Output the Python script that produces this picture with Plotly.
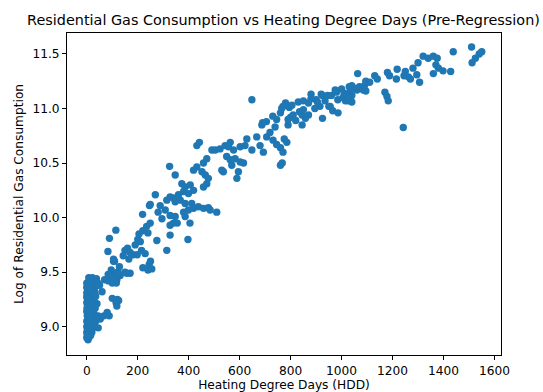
import plotly.graph_objects as go

# Heating degree days (x) and log of residential gas consumption (y)
hdd_low = [0, 2, 5, 8, 0, 3, 10, 15, 20, 0, 5, 12, 18, 25, 30, 0, 6, 14, 22, 35,
           40, 2, 9, 16, 28, 45, 0, 7, 20, 33, 3, 11, 24, 40, 0, 8, 15, 28, 2, 12,
           22, 35, 0, 6, 18, 30, 3, 10, 25, 40, 0, 15, 30, 8, 22, 38, 0, 4, 1, 13,
           5, 18, 27, 10, 0, 32, 44, 6, 20, 14]
gas_low = [8.90, 8.93, 8.88, 8.90, 8.95, 8.98, 8.96, 8.92, 8.95, 9.00, 9.02, 9.00, 9.03, 8.99, 9.02, 9.05, 9.07, 9.06, 9.08, 9.05,
           9.08, 9.10, 9.12, 9.11, 9.12, 9.10, 9.14, 9.16, 9.15, 9.17, 9.19, 9.20, 9.19, 9.21, 9.22, 9.24, 9.26, 9.24, 9.28, 9.29,
           9.30, 9.28, 9.31, 9.33, 9.34, 9.35, 9.37, 9.38, 9.39, 9.38, 9.40, 9.42, 9.43, 9.45, 9.45, 9.44, 9.36, 9.26, 9.17, 9.35,
           8.92, 8.97, 9.04, 9.13, 9.27, 9.31, 9.40, 9.41, 9.22, 9.09]

hdd_mid = [50, 60, 70, 85, 100, 53, 67, 88, 45, 80,
           96, 105, 118, 131, 110, 120, 125, 115, 100,
           84, 100, 110, 122, 150, 170, 96, 118,
           83, 89, 114, 109, 105, 122, 128, 116,
           143, 150, 160, 170, 182, 157, 165,
           190, 200, 210, 215, 229, 205, 220, 235, 240, 249, 198,
           220, 240, 255, 250, 245,
           275, 314, 397, 219, 246, 249, 269, 280,
           327, 340, 355, 327, 405]
gas_mid = [9.38, 9.32, 9.43, 9.42, 9.40, 9.07, 9.10, 9.10, 8.99, 9.13,
           9.52, 9.60, 9.43, 9.47, 9.47, 9.25, 9.24, 9.22, 9.26,
           9.48, 9.49, 9.47, 9.50, 9.50, 9.49, 9.46, 9.19,
           9.69, 9.81, 9.885, 9.60, 9.62, 9.50, 9.55, 9.40,
           9.65, 9.70, 9.72, 9.68, 9.66, 9.49, 9.62,
           9.75, 9.80, 9.78, 9.70, 9.67, 9.85, 9.88, 9.92, 9.86, 9.95, 9.66,
           9.54, 9.52, 9.53, 9.60, 9.57,
           9.79, 9.70, 9.80, 10.03, 10.11, 10.12, 10.21, 10.05,
           9.93, 9.95, 9.95, 9.84, 9.95]

hdd_band = [325, 347, 373, 386, 406, 419, 399, 380, 360, 340,
            327, 314, 347, 367, 386, 412, 419, 399, 380, 386,
            347, 327, 308, 288, 438, 458, 477, 484, 510, 295,
            471, 458, 432, 419, 452, 465, 477, 471, 458, 432, 442,
            491, 504, 523, 543, 563, 556, 576, 602, 621, 628,
            648, 667, 680, 693, 706, 687,
            549, 563, 582, 602, 615, 569, 530, 536, 595, 589]
gas_band = [10.47, 10.39, 10.31, 10.28, 10.30, 10.25, 10.22, 10.24, 10.21, 10.18,
            10.19, 10.16, 10.145, 10.16, 10.13, 10.13, 10.085, 10.07, 10.05, 10.01,
            10.01, 10.02, 10.07, 10.11, 10.10, 10.085, 10.09, 10.07, 10.05, 9.99,
            10.54, 10.50, 10.465, 10.435, 10.42, 10.39, 10.36, 10.31, 10.28, 10.66, 10.69,
            10.62, 10.62, 10.63, 10.66, 10.69, 10.65, 10.62, 10.65, 10.66, 10.72,
            10.62, 10.74, 10.66, 10.60, 10.74, 10.85,
            10.56, 10.53, 10.54, 10.51, 10.50, 10.48, 10.435, 10.42, 10.42, 10.36]

hdd_high = [648,
            760, 767, 731, 760, 770, 745, 785, 775, 719, 739, 790,
            690, 705, 730, 760, 745, 800, 820, 845, 770, 795, 810, 790, 835,
            765, 780, 805, 830, 850, 870, 900, 915, 935, 960, 880, 925, 950,
            980, 1000, 1030, 1045, 985, 1010, 1040,
            850, 845, 870, 858, 880, 905, 895, 925, 955, 965, 920, 945, 975, 986,
            1005, 1015, 1020, 1025, 1035, 1040, 1040, 1060, 1063, 1070, 1085, 1095,
            1090, 1095, 1110, 1130, 1140, 1170, 1178, 1183,
            1180, 1188, 1215, 1218, 1242, 1245, 1250, 1262, 1270,
            1280, 1295, 1300, 1306, 1320, 1340, 1360, 1360, 1370, 1375, 1380,
            1398, 1428, 1438, 1510, 1512, 1525, 1540, 1550]
gas_high = [11.08,
            10.48, 10.50, 10.71, 10.64, 10.60, 10.67, 10.69, 10.72, 10.78, 10.83, 10.85,
            10.87, 10.88, 10.93, 10.96, 10.90, 10.92, 10.89, 10.94, 11.02, 11.01, 10.94, 10.90, 10.97,
            11.00, 11.05, 11.03, 11.06, 10.99, 11.05, 11.08, 11.02, 11.07, 11.12, 11.13, 11.12, 11.02,
            11.15, 11.18, 11.20, 11.19, 11.08, 11.14, 11.12,
            11.07, 10.85, 10.94, 10.91, 11.09, 11.06, 11.00, 10.91, 11.02, 10.98, 11.13, 11.12, 11.17, 10.96,
            11.10, 11.07, 11.13, 11.07, 11.17, 11.21, 11.06, 11.17, 11.32, 11.20, 11.17, 11.16,
            11.21, 11.25, 11.24, 11.30, 11.27, 11.15, 11.11, 11.07,
            11.33, 11.30, 11.27, 11.36, 10.826, 11.30, 11.34, 11.29, 11.27,
            11.37, 11.31, 11.42, 11.24, 11.48, 11.46, 11.48, 11.32, 11.40, 11.46, 11.37,
            11.345, 11.34, 11.52, 11.564, 11.42, 11.46, 11.50, 11.52]

hdd = hdd_low + hdd_mid + hdd_band + hdd_high
gas = gas_low + gas_mid + gas_band + gas_high

FONT = "DejaVu Sans"
TICK = 12.2

fig = go.Figure(go.Scatter(
    x=hdd, y=gas, mode="markers",
    marker=dict(size=7.4, color="#1f77b4", line=dict(width=0)),
))

axis_common = dict(
    showgrid=False, zeroline=False, showline=True, linecolor="black", linewidth=1,
    mirror=True, ticks="outside", ticklen=4, tickwidth=1, tickcolor="black",
    tickfont=dict(family=FONT, size=TICK, color="black"), automargin=False,
)

fig.update_layout(
    width=543, height=392,
    margin=dict(l=67, r=42, t=33, b=37),
    paper_bgcolor="white", plot_bgcolor="white",
    showlegend=False,
    font=dict(family=FONT, color="black"),
    title=dict(
        text="Residential Gas Consumption vs Heating Degree Days (Pre-Regression)",
        font=dict(family=FONT, size=14.4, color="black"),
        x=(283.5 / 543), xanchor="center", y=1 - 19.5 / 392, yanchor="middle",
    ),
    xaxis=dict(
        range=[-77.6, 1625.5], tickvals=[0, 200, 400, 600, 800, 1000, 1200, 1400, 1600],
        title=dict(text="Heating Degree Days (HDD)", font=dict(family=FONT, size=TICK, color="black"), standoff=3),
        **axis_common,
    ),
    yaxis=dict(
        range=[8.741, 11.692], tickvals=[9.0, 9.5, 10.0, 10.5, 11.0, 11.5], tickformat=".1f",
        title=dict(text="Log of Residential Gas Consumption", font=dict(family=FONT, size=TICK, color="black"), standoff=6),
        **axis_common,
    ),
)

fig.write_html(
    "out.html",
    config={"displayModeBar": False},
    post_script="document.body.style.margin='0';document.body.style.overflow='hidden';",
)
